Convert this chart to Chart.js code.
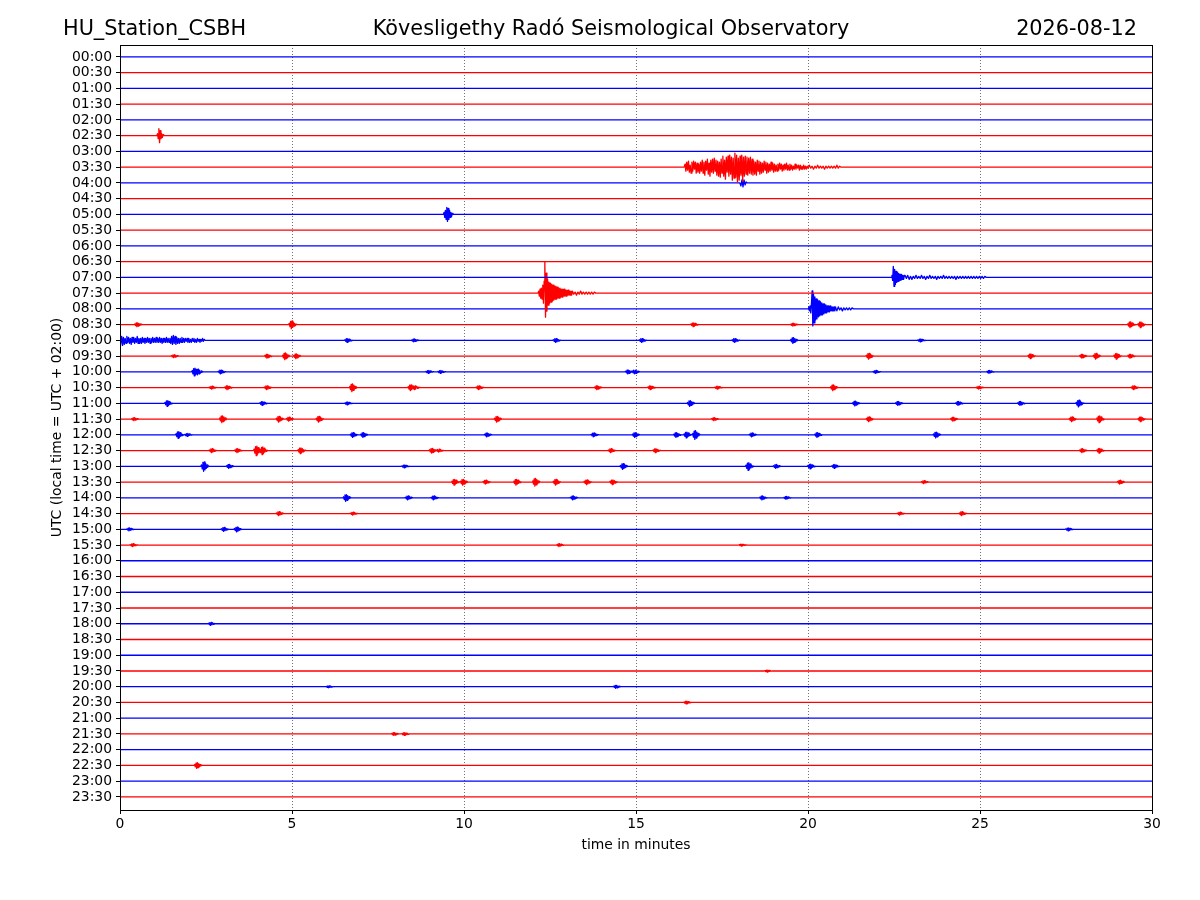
<!DOCTYPE html>
<html>
<head>
<meta charset="utf-8">
<script src="https://cdn.jsdelivr.net/npm/chart.js@4.4.1/dist/chart.umd.min.js"></script>
<style>
	body { margin: 0; background: #fff; }
	canvas { display: block; }
</style>
</head>
<body>
<canvas id="dayplot" width="1200" height="900"></canvas>
<script>
// half-hour trace labels, one per line of the helicorder
const traceLabels = [
	'00:00', '00:30', '01:00', '01:30', '02:00', '02:30', '03:00', '03:30',
	'04:00', '04:30', '05:00', '05:30', '06:00', '06:30', '07:00', '07:30',
	'08:00', '08:30', '09:00', '09:30', '10:00', '10:30', '11:00', '11:30',
	'12:00', '12:30', '13:00', '13:30', '14:00', '14:30', '15:00', '15:30',
	'16:00', '16:30', '17:00', '17:30', '18:00', '18:30', '19:00', '19:30',
	'20:00', '20:30', '21:00', '21:30', '22:00', '22:30', '23:00', '23:30'
];
const xTicks = [0, 5, 10, 15, 20, 25, 30];

const stationName = 'HU_Station_CSBH';
const observatory = 'Kövesligethy Radó Seismological Observatory';
const plotDate = '2026-08-12';

// counts -> trace spacing
const VERT_SCALE = 1 / 15.7;

// recorded wave trains: [trace, start minute, minutes per sample, amplitudes (counts)]
const events = [
	[5, 1.07, 0.02, [0, 2, -3, 7, -7, 5, -3, 2, -2, 1, 0]],
	[7, 16.4, 0.025, [
		0, 3, -4, 5, -3, 6, -5, 2, -6, 5, -4, 6, -2, 5, -6, 4, -5, 3, -6, 5,
		-4, 7, -6, 5, -8, 6, -3, 8, -7, 4, -9, 7, -5, 8, -6, 9, -4, 7, -8, 6,
		-9, 5, -10, 8, -6, 11, -9, 7, -12, 10, -5, 11, -9, 12, -7, 10, -13, 9, -11, 14,
		-10, 12, -15, 9, -13, 11, -8, 12, -14, 10, -9, 11, -7, 10, -8, 9, -6, 10, -7, 8,
		-8, 6, -7, 5, -8, 7, -4, 6, -7, 5, -6, 4, -5, 6, -3, 5, -6, 4, -5, 3,
		-4, 5, -3, 4, -5, 3, -4, 2, -4, 3, -3, 4, -2, 3, -4, 2, -3, 3, -2, 4,
		-3, 2, -3, 3, -2, 2, -3, 1, -2, 3, -2, 2, -1, 2, -3, 2, -2, 1, -2, 2,
		-2, 1, -2, 1]],
	[7, 20.0, 0.04, [-1, 2, -1, 1, -2, 1, -1, 2, -1, 1, -1, 1, -2, 1, -1, 1, -1, 1, -1, 1, -1, 2, -1, 1, 0]],
	[8, 18.02, 0.03, [0, -3, 3, -4, 3, -2, 1, 0]],
	[10, 9.4, 0.02, [0, 2, -3, 4, -5, 7, -7, 6, -5, 4, -3, 2, -2, 1, 0]],
	[14, 22.42, 0.02, [0, 2, -3, 11, -9, 8, -7, 6, -5, 5, -4, 4, -3, 3, -3, 3, -2, 2, -2, 2]],
	[14, 22.82, 0.04, [
		2, -1, 2, -2, 1, -2, 1, -1, 2, -1, 1, -1, 2, -1, 1, -2, 1, -1, 2, -1,
		1, -1, 1, -2, 1, -1, 1, -1, 2, -1, 1, -1, 1, -1, 1, -1, 1, -2, 1, -1,
		1, -1, 1, -1, 1, -1, 1, -1, 1, -1, 1, -1, 1, -1, 1, -1, 1, -1, 1, 0]],
	[15, 12.15, 0.02, [
		0, 2, -3, 4, -5, 5, -6, 8, -10, 12,
		31, -24, 20, -18, 14, -12, 11, -10, 10, -9,
		9, -8, 8, -7, 7, -6, 7, -6, 6, -5,
		5, -5, 5, -4, 4, -4, 4, -3, 4, -3,
		3, -3, 3, -2, 3, -2, 2, -2, 2, -2]],
	[15, 13.15, 0.04, [2, -1, 1, -2, 1, -1, 2, -1, 1, -1, 1, -1, 1, -1, 1, -1, 1, 0]],
	[16, 20.0, 0.02, [
		0, 2, -2, 3, -4, 5, 18, -17, 15, -14,
		12, -11, 10, -10, 9, -8, 8, -7, 7, -6,
		6, -6, 5, -5, 5, -4, 4, -4, 3, -3,
		3, -3, 3, -2, 2, -2, 2, -2, 2, -2]],
	[16, 20.8, 0.04, [2, -2, 2, -1, 1, -2, 1, -1, 1, -1, 1, -1, 1, 0]],
	[18, 0.0, 0.025, [
		5, -6, 4, -5,
		3, -4, 2, -3, 4, -2, 3, -3, 2, -4, 3, -2, 3, -3, 2, -2, 4, -3, 2, -3,
		2, -3, 3, -2, 2, -3, 2, -2, 3, -2, 2, -3, 2, -2, 3, -2, 2, -2, 3, -2,
		2, -2, 3, -2, 2, -3, 2, -2, 2, -2, 3, -2, 2, -2, 2, -3,
		4, -4, 5, -3, 4, -4, 3, -3,
		2, -3, 2, -2, 3, -2, 2, -2, 2, -1, 2, -2, 2, -2, 1, -2,
		2, -1, 2, -2, 1, -2, 2, -1, 1, -2, 1, -1, 2, -1, 1, 0]]
];

// short local bursts: [trace, minute, peak amplitude (counts)]
const blips = [
	[17, 0.53, 2], [17, 5.02, 4], [17, 16.7, 2], [17, 19.6, 1.5], [17, 29.4, 3], [17, 29.7, 3],
	[18, 6.64, 2], [18, 8.58, 1.5], [18, 12.7, 2], [18, 15.2, 2], [18, 17.9, 2], [18, 19.6, 3], [18, 23.3, 1.5],
	[19, 1.6, 1.5], [19, 4.31, 2], [19, 4.83, 3.5], [19, 5.15, 2.5], [19, 21.8, 3], [19, 26.5, 2.5], [19, 28.0, 2], [19, 28.4, 3], [19, 29.0, 3], [19, 29.4, 2],
	[20, 2.2, 4], [20, 2.3, 3], [20, 2.96, 2], [20, 9.0, 1.5], [20, 9.35, 1.5], [20, 14.8, 2], [20, 15.0, 2], [20, 22.0, 1.5], [20, 25.3, 1.5],
	[21, 2.7, 1.5], [21, 3.15, 2], [21, 4.3, 2], [21, 6.78, 4], [21, 8.48, 3], [21, 8.6, 2], [21, 10.46, 2], [21, 13.9, 2], [21, 15.45, 2], [21, 17.4, 1.5], [21, 20.76, 3], [21, 25.0, 1.5], [21, 29.5, 2],
	[22, 1.41, 3], [22, 4.17, 2], [22, 6.64, 1.5], [22, 16.6, 3], [22, 21.4, 2.5], [22, 22.65, 2], [22, 24.4, 2], [22, 26.2, 2], [22, 27.9, 3.5],
	[23, 0.44, 1.5], [23, 3.0, 3.5], [23, 4.65, 3], [23, 4.94, 2], [23, 5.81, 3], [23, 10.99, 3], [23, 17.3, 1.5], [23, 21.8, 2.5], [23, 24.25, 2], [23, 27.7, 2.5], [23, 28.5, 3.5], [23, 29.7, 2.5],
	[24, 1.73, 3.5], [24, 1.99, 1.5], [24, 6.8, 2.5], [24, 7.1, 2.5], [24, 10.7, 2], [24, 13.8, 2], [24, 15.0, 2.5], [24, 16.2, 2.5], [24, 16.5, 3], [24, 16.75, 4.5], [24, 18.4, 2], [24, 20.3, 2.5], [24, 23.75, 3],
	[25, 2.7, 2], [25, 3.44, 2], [25, 4.0, 5], [25, 4.17, 4], [25, 5.28, 3], [25, 9.1, 2.5], [25, 9.3, 1.5], [25, 14.3, 2], [25, 15.6, 2], [25, 28.0, 2], [25, 28.5, 2.5],
	[26, 2.47, 5], [26, 3.2, 2], [26, 8.3, 1.5], [26, 14.65, 3], [26, 18.3, 4], [26, 19.1, 2], [26, 20.1, 2.5], [26, 20.8, 2],
	[27, 9.75, 3], [27, 10.0, 3], [27, 10.66, 2], [27, 11.55, 3], [27, 12.1, 4], [27, 12.7, 3], [27, 13.6, 2.5], [27, 14.35, 2.5], [27, 23.4, 1.5], [27, 29.1, 2],
	[28, 6.6, 3.5], [28, 8.4, 2], [28, 9.15, 2], [28, 13.2, 2], [28, 18.7, 2], [28, 19.4, 1.5],
	[29, 4.65, 2], [29, 6.8, 1.5], [29, 22.7, 1.5], [29, 24.5, 2],
	[30, 0.3, 1.5], [30, 3.05, 2], [30, 3.43, 2.5], [30, 27.6, 1.5],
	[31, 0.4, 1.5], [31, 12.8, 1.5], [31, 18.1, 1],
	[36, 2.67, 1.5], [39, 18.85, 1], [40, 6.1, 1], [40, 14.45, 1.5], [41, 16.5, 1.5],
	[43, 8.0, 1.5], [43, 8.3, 1.5], [45, 2.27, 3]
];
// normalised shape of a short burst, sampled every blipStep minutes
const blipShape = [0, 0.3, -0.5, 0.8, -1, 0.9, -0.7, 0.6, -0.4, 0.3, -0.2, 0.1, 0];
const blipStep = 0.02;

function buildTraces() {
	var datasets = [];
	for (let i = 0; i < traceLabels.length; i++) {
		var pts = [];
		events.filter(e => e[0] === i).forEach(e => {
			e[3].forEach((a, k) => pts.push({x: e[1] + k * e[2], y: i - a * VERT_SCALE}));
		});
		blips.filter(b => b[0] === i).forEach(b => {
			const start = b[1] - blipStep * (blipShape.length - 1) / 2;
			blipShape.forEach((s, k) => pts.push({x: start + k * blipStep, y: i - s * b[2] * VERT_SCALE}));
		});
		pts.sort((a, b) => a.x - b.x);
		pts.unshift({x: 0, y: i});
		pts.push({x: 30, y: i});

		datasets.push({
			label: traceLabels[i],
			data: pts,
			borderColor: i % 2 === 0 ? '#0000ff' : '#ff0000',
			borderWidth: 1.3,
			borderJoinStyle: 'round',
			pointRadius: 0,
			tension: 0,
		});
	}
	return datasets;
}

const frameAndText = {
	id: 'frameAndText',
	afterDraw(chart) {
		const {ctx, chartArea: {left, top, right, bottom, width, height}} = chart;
		ctx.save();
		ctx.strokeStyle = '#000';
		ctx.lineWidth = 1;
		ctx.strokeRect(Math.round(left) + 0.5, Math.round(top) + 0.5, Math.round(width), Math.round(height));

		ctx.fillStyle = '#000';
		ctx.textBaseline = 'alphabetic';
		ctx.font = '20.8px "DejaVu Sans"';
		ctx.textAlign = 'left';
		ctx.fillText(stationName, 63, 35);
		ctx.textAlign = 'center';
		ctx.fillText(observatory, 611, 35);
		ctx.textAlign = 'right';
		ctx.fillText(plotDate, 1137, 35);

		ctx.font = '13.9px "DejaVu Sans"';
		ctx.textAlign = 'center';
		ctx.textBaseline = 'middle';
		ctx.fillText('time in minutes', (left + right) / 2, 845);
		ctx.translate(57, (top + bottom) / 2);
		ctx.rotate(-Math.PI / 2);
		ctx.fillText('UTC (local time = UTC + 02:00)', 0, 0);
		ctx.restore();
	}
};

var chart = new Chart(document.getElementById('dayplot'), {
	type: 'line',
	data: { datasets: buildTraces() },
	options: {
		responsive: false,
		animation: false,
		devicePixelRatio: 1,
		layout: { padding: { top: 45, right: 48, left: 0, bottom: 0 } },
		plugins: {
			legend: { display: false },
			tooltip: { enabled: false },
		},
		scales: {
			x: {
				type: 'linear',
				min: 0,
				max: 30,
				afterBuildTicks: axis => { axis.ticks = xTicks.map(v => ({value: v})); },
				afterFit: axis => { axis.height = 90; },
				ticks: {
					color: '#000',
					font: { family: 'DejaVu Sans', size: 13.9 },
					padding: 2,
					maxRotation: 0,
				},
				grid: {
					color: c => (c.tick && (c.tick.value === 0 || c.tick.value === 30)) ? 'rgba(0,0,0,0)' : 'rgba(0,0,0,0.55)',
					lineWidth: 1,
					tickLength: 4,
					tickColor: '#000',
					tickWidth: 1,
				},
				border: { display: false, dash: [1, 2] },
			},
			y: {
				type: 'linear',
				reverse: true,
				min: -0.76,
				max: 47.83,
				afterBuildTicks: axis => { axis.ticks = traceLabels.map((_, i) => ({value: i})); },
				afterFit: axis => { axis.width = 120; },
				ticks: {
					autoSkip: false,
					color: '#000',
					font: { family: 'DejaVu Sans', size: 13.9 },
					padding: 4,
					callback: v => traceLabels[v],
				},
				grid: {
					drawOnChartArea: false,
					tickLength: 4,
					color: '#000',
				},
				border: { display: false },
			},
		},
	},
	plugins: [frameAndText],
});
</script>
</body>
</html>
